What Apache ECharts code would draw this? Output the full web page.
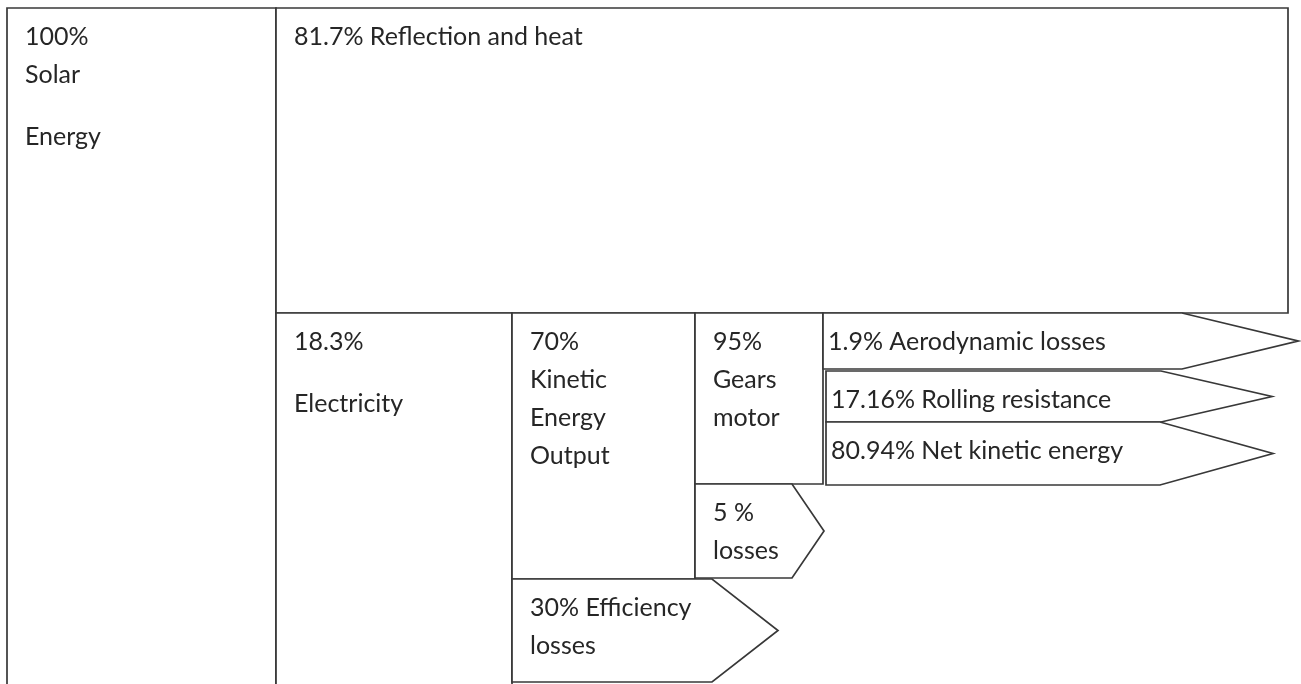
<!DOCTYPE html>
<html>
<head>
<meta charset="utf-8">
<title>Solar car energy flow</title>
<script src="https://cdn.jsdelivr.net/npm/echarts@6/dist/echarts.min.js"></script>
<style>
  html, body { margin: 0; padding: 0; background: #fff; }
  #main { width: 1301px; height: 684px; }
</style>
</head>
<body>
<div id="main"></div>
<script>
// one entry per block of the flow diagram
const nodeLabels = [
  '100%\nSolar\n{g| }\nEnergy',
  '81.7% Reflection and heat',
  '18.3%\n{g| }\nElectricity',
  '70%\nKinetic\nEnergy\nOutput',
  '95%\nGears\nmotor',
  '1.9% Aerodynamic losses',
  '17.16% Rolling resistance',
  '80.94% Net kinetic energy',
  '5 %\nlosses',
  '30% Efficiency\nlosses'
]
// box = rectangle, arrow = pointed block, tag = pointed block with tight text
const nodeKinds = ['box', 'box', 'box', 'box', 'box', 'tag', 'tag', 'tag', 'arrow', 'arrow']

// block extents, in diagram units
const nodeLeft   = [7,   276,  276, 512, 695, 823,  826,  826,  695, 512]
const nodeRight  = [276, 1288, 512, 695, 823, 1298, 1272, 1273, 824, 778]
const nodeTop    = [8,   8,    313, 313, 313, 313,  371,  422,  484, 579]
const nodeBottom = [700, 313,  700, 579, 484, 369,  422,  485,  578, 682]
// where the point of an arrow starts
const nodeNeck   = [0,   0,    0,   0,   0,   1182, 1161, 1160, 792, 712]

const data = nodeLabels.map((label, i) => [
  nodeLeft[i], nodeTop[i], nodeRight[i], nodeBottom[i], nodeNeck[i]
])

var myChart = echarts.init(document.getElementById('main'))

function renderItem(params, api) {
  const i = params.dataIndex
  const x0 = api.value(0), y0 = api.value(1), x1 = api.value(2), y1 = api.value(3), neck = api.value(4)
  const kind = nodeKinds[i]
  let pts
  if (kind === 'box') {
    pts = [[x0, y0], [x1, y0], [x1, y1], [x0, y1]]
  } else {
    pts = [[x0, y0], [neck, y0], [x1, (y0 + y1) / 2], [neck, y1], [x0, y1]]
  }
  pts = pts.map(p => api.coord(p))
  const tl = api.coord([x0, y0])
  const inset = kind === 'tag' ? 5 : 18
  return {
    type: 'group',
    children: [
      {
        type: 'polygon',
        shape: { points: pts },
        style: { fill: '#fff', stroke: '#383838', lineWidth: 1.7 }
      },
      {
        type: 'text',
        x: tl[0] + inset,
        y: tl[1] + 10,
        style: {
          text: nodeLabels[i],
          fill: '#262626',
          fontFamily: 'Lato',
          fontSize: 25,
          lineHeight: 38,
          verticalAlign: 'top',
          rich: {
            g: { fontSize: 1, lineHeight: 24 }
          }
        }
      }
    ]
  }
}

const option = {
  animation: false,
  backgroundColor: '#fff',
  grid: { left: 0, right: 0, top: 0, bottom: 0 },
  xAxis: { type: 'value', min: 0, max: 1301, show: false },
  yAxis: { type: 'value', min: 0, max: 684, inverse: true, show: false },
  series: [
    {
      type: 'custom',
      silent: true,
      clip: false,
      renderItem: renderItem,
      encode: { x: [0, 2, 4], y: [1, 3] },
      data: data
    }
  ]
}
myChart.setOption(option)
</script>
</body>
</html>
